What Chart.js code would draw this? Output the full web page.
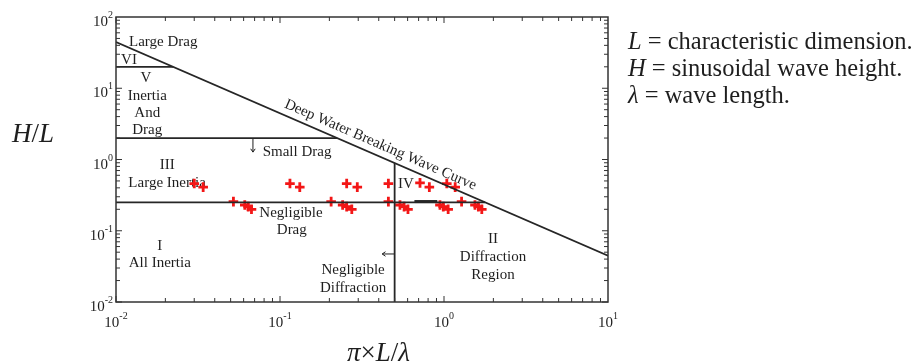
<!DOCTYPE html>
<html>
<head>
<meta charset="utf-8">
<script src="https://cdn.jsdelivr.net/npm/chart.js@4"></script>
<style>
  html, body { margin: 0; padding: 0; background: #fff; }
  #wrap { width: 922px; height: 363px; }
</style>
</head>
<body>
<div id="wrap"><canvas id="chartCanvas" width="922" height="363"></canvas></div>
<script>
// test points, upper row
const upperX = [0.030, 0.034, 0.115, 0.132, 0.255, 0.296, 0.458, 0.714, 0.814, 1.04, 1.17];
const upperY = [0.46, 0.41, 0.46, 0.41, 0.46, 0.41, 0.46, 0.47, 0.41, 0.46, 0.41];
// test points, lower row (around the H/L = 0.25 line)
const lowerX = [0.052, 0.061, 0.064, 0.067, 0.205, 0.241, 0.255, 0.274, 0.458, 0.539, 0.571, 0.603,
                0.945, 0.99, 1.06, 1.28, 1.545, 1.62, 1.70];
const lowerY = [0.256, 0.23, 0.218, 0.2, 0.256, 0.23, 0.218, 0.2, 0.256, 0.23, 0.218, 0.2,
                0.23, 0.218, 0.2, 0.256, 0.23, 0.218, 0.2];

// deep water breaking limit, H/lambda = 1/7
const breakX = [0.01, 10];
const breakY = [44.6, 0.0446];
// region boundaries
const dragVIX = [0.01, 0.0223];
const dragVIY = [20, 20];
const dragVX = [0.01, 0.223];
const dragVY = [2, 2];
const inertiaX = [0.01, 1.78];
const inertiaY = [0.25, 0.25];
const diffrX = [0.5, 0.5];
const diffrY = [0.01, 0.89];
const stubX = [0.66, 0.91];
const stubY = [0.257, 0.257];

const xExps = [-2, -1, 0, 1];
const yExps = [-2, -1, 0, 1, 2];

// region names: text, x, y
const regionLabels = [
  ['Large Drag', 0.0194, 44.6],
  ['VI', 0.012, 24.9],
  ['V', 0.0152, 13.9],
  ['Inertia', 0.0155, 7.78],
  ['And', 0.0155, 4.5],
  ['Drag', 0.0155, 2.6],
  ['Small Drag', 0.127, 1.27],
  ['III', 0.0205, 0.838],
  ['Large Inertia', 0.0205, 0.468],
  ['Negligible', 0.1167, 0.1774],
  ['Drag', 0.118, 0.1025],
  ['I', 0.0185, 0.0611],
  ['All Inertia', 0.0185, 0.0352],
  ['Negligible', 0.279, 0.0281],
  ['Diffraction', 0.279, 0.0157],
  ['IV', 0.586, 0.453],
  ['II', 1.99, 0.0766],
  ['Diffraction', 1.99, 0.0428],
  ['Region', 1.99, 0.0239]
];

const FONT = '"Liberation Serif", "Times New Roman", serif';
const INK = '#1e1e1e';

function pts(xs, ys) {
  return xs.map((x, i) => ({ x: x, y: ys[i] }));
}

function lineSet(xs, ys, width) {
  return {
    data: pts(xs, ys),
    showLine: true,
    borderColor: '#262626',
    borderWidth: width || 1.8,
    pointRadius: 0,
    fill: false
  };
}

function markSet(xs, ys) {
  return {
    data: pts(xs, ys),
    showLine: false,
    pointStyle: 'cross',
    pointRadius: 4.8,
    borderColor: '#f31616',
    backgroundColor: '#f31616',
    borderWidth: 2.8
  };
}

function drawPower(ctx, exp, x, y, align) {
  ctx.font = '15px ' + FONT;
  const wb = ctx.measureText('10').width;
  ctx.font = '10px ' + FONT;
  const ws = ctx.measureText(String(exp)).width;
  let x0 = align === 'right' ? x - wb - ws : x - (wb + ws) / 2;
  ctx.fillStyle = INK;
  ctx.textAlign = 'left';
  ctx.textBaseline = 'alphabetic';
  ctx.font = '15px ' + FONT;
  ctx.fillText('10', x0, y);
  ctx.font = '10px ' + FONT;
  ctx.fillText(String(exp), x0 + wb, y - 8);
}

function arrow(ctx, x1, y1, x2, y2) {
  const a = Math.atan2(y2 - y1, x2 - x1);
  ctx.beginPath();
  ctx.moveTo(x1, y1);
  ctx.lineTo(x2, y2);
  ctx.moveTo(x2 - 4 * Math.cos(a - 0.6), y2 - 4 * Math.sin(a - 0.6));
  ctx.lineTo(x2, y2);
  ctx.lineTo(x2 - 4 * Math.cos(a + 0.6), y2 - 4 * Math.sin(a + 0.6));
  ctx.stroke();
}

// italic/upright runs on one baseline
function runs(ctx, parts, x, y, size) {
  ctx.textAlign = 'left';
  ctx.textBaseline = 'alphabetic';
  ctx.fillStyle = INK;
  parts.forEach(p => {
    ctx.font = (p[1] ? 'italic ' : '') + size + 'px ' + FONT;
    ctx.fillText(p[0], x, y);
    x += ctx.measureText(p[0]).width;
  });
}

const labelsPlugin = {
  id: 'regionText',
  beforeDatasetsDraw(chart) {
    const ctx = chart.ctx;
    const xs = chart.scales.x, ys = chart.scales.y;
    ctx.save();
    ctx.fillStyle = INK;
    ctx.font = '15px ' + FONT;
    ctx.textAlign = 'center';
    ctx.textBaseline = 'middle';
    regionLabels.forEach(l => {
      ctx.fillText(l[0], xs.getPixelForValue(l[1]), ys.getPixelForValue(l[2]));
    });

    // curve name along the breaking line
    const p1x = xs.getPixelForValue(breakX[0]), p1y = ys.getPixelForValue(breakY[0]);
    const p2x = xs.getPixelForValue(breakX[1]), p2y = ys.getPixelForValue(breakY[1]);
    const ang = Math.atan2(p2y - p1y, p2x - p1x);
    const cx = xs.getPixelForValue(0.385);
    const cy = p1y + (cx - p1x) * Math.tan(ang);
    ctx.translate(cx + 11 * Math.sin(ang), cy - 11 * Math.cos(ang));
    ctx.rotate(ang);
    ctx.fillText('Deep Water Breaking Wave Curve', 0, 0);
    ctx.restore();

    // arrows
    ctx.save();
    ctx.strokeStyle = INK;
    ctx.lineWidth = 1;
    const ax = xs.getPixelForValue(0.0684);
    arrow(ctx, ax, ys.getPixelForValue(2), ax, ys.getPixelForValue(1.27));
    const ay = ys.getPixelForValue(0.0472);
    arrow(ctx, xs.getPixelForValue(0.5), ay, xs.getPixelForValue(0.42), ay);
    ctx.restore();
  },
  afterDraw(chart) {
    const ctx = chart.ctx;
    const a = chart.chartArea;
    const xs = chart.scales.x, ys = chart.scales.y;
    ctx.save();
    ctx.strokeStyle = '#333';
    ctx.lineWidth = 1.5;
    ctx.strokeRect(a.left, a.top, a.right - a.left, a.bottom - a.top);

    // inside ticks on all four sides
    ctx.lineWidth = 1;
    ctx.beginPath();
    for (let e = xExps[0]; e < xExps[xExps.length - 1]; e++) {
      for (let m = 1; m < 10; m++) {
        const px = xs.getPixelForValue(m * Math.pow(10, e));
        const len = m === 1 ? 6 : 4;
        ctx.moveTo(px, a.bottom); ctx.lineTo(px, a.bottom - len);
        ctx.moveTo(px, a.top); ctx.lineTo(px, a.top + len);
      }
    }
    for (let e = yExps[0]; e < yExps[yExps.length - 1]; e++) {
      for (let m = 1; m < 10; m++) {
        const py = ys.getPixelForValue(m * Math.pow(10, e));
        const len = m === 1 ? 6 : 4;
        ctx.moveTo(a.left, py); ctx.lineTo(a.left + len, py);
        ctx.moveTo(a.right, py); ctx.lineTo(a.right - len, py);
      }
    }
    ctx.stroke();

    xExps.forEach(e => drawPower(ctx, e, xs.getPixelForValue(Math.pow(10, e)), a.bottom + 25, 'center'));
    yExps.forEach(e => drawPower(ctx, e, a.left - 3, ys.getPixelForValue(Math.pow(10, e)) + 9, 'right'));

    // axis titles
    runs(ctx, [['H', true], ['/', false], ['L', true]], 12, 142, 27);
    runs(ctx, [['\u03c0', true], ['\u00d7', false], ['L', true], ['/', false], ['\u03bb', true]], 347, 361, 27);

    // symbol notes
    runs(ctx, [['L', true], [' = characteristic dimension.', false]], 628, 49, 24.5);
    runs(ctx, [['H', true], [' = sinusoidal wave height.', false]], 628, 76, 24.5);
    runs(ctx, [['\u03bb', true], [' = wave length.', false]], 628, 103, 24.5);
    ctx.restore();
  }
};

const ctx = document.getElementById('chartCanvas').getContext('2d');
new Chart(ctx, {
  type: 'scatter',
  data: {
    datasets: [
      lineSet(breakX, breakY),
      lineSet(dragVIX, dragVIY),
      lineSet(dragVX, dragVY),
      lineSet(inertiaX, inertiaY),
      lineSet(diffrX, diffrY),
      lineSet(stubX, stubY, 3),
      markSet(upperX, upperY),
      markSet(lowerX, lowerY)
    ]
  },
  options: {
    responsive: false,
    animation: false,
    devicePixelRatio: 1,
    layout: { padding: { left: 116, right: 314, top: 17, bottom: 61 } },
    plugins: { legend: { display: false }, tooltip: { enabled: false } },
    scales: {
      x: { type: 'logarithmic', min: 0.01, max: 10, display: false },
      y: { type: 'logarithmic', min: 0.01, max: 100, display: false }
    }
  },
  plugins: [labelsPlugin]
});
</script>
</body>
</html>
